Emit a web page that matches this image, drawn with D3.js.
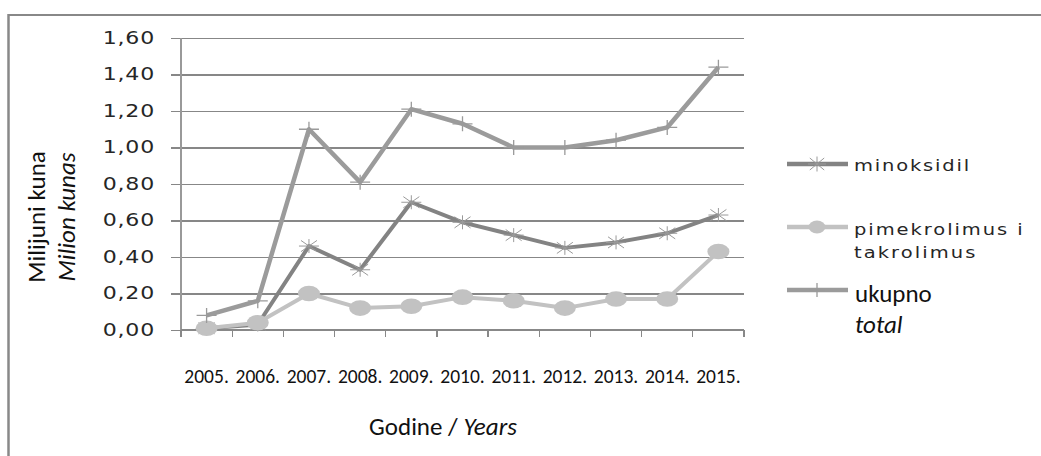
<!DOCTYPE html>
<html>
<head>
<meta charset="utf-8">
<script src="https://cdn.jsdelivr.net/npm/d3@7"></script>
<style>
  html, body { margin: 0; padding: 0; background: #fff; }
  svg { display: block; }
</style>
</head>
<body>
<svg id="chart" width="1041" height="456"></svg>
<script>
// Years on the category axis
const years = ["2005.", "2006.", "2007.", "2008.", "2009.", "2010.", "2011.", "2012.", "2013.", "2014.", "2015."];

// Spending per group, million kunas
const minoksidil = [0.01, 0.03, 0.46, 0.33, 0.70, 0.59, 0.52, 0.45, 0.48, 0.53, 0.63];
const pimekrolimus = [0.01, 0.04, 0.20, 0.12, 0.13, 0.18, 0.16, 0.12, 0.17, 0.17, 0.43];
const ukupno = [0.08, 0.16, 1.10, 0.81, 1.21, 1.13, 1.00, 1.00, 1.04, 1.11, 1.44];

// Value axis ticks
const yTicks = [0, 0.2, 0.4, 0.6, 0.8, 1.0, 1.2, 1.4, 1.6];

const svg = d3.select("#chart");
const WIDE = 1.3;            // horizontal stretch of the sans labels
const verdana = "'DejaVu Sans', Verdana, sans-serif";
const calibri = "Carlito, Calibri, 'Liberation Sans', sans-serif";

// Text drawn with a horizontal stretch around its anchor point
function wideText(parent, x, y, str, opts) {
  const g = parent.append("g").attr("transform", `translate(${x},${y}) scale(${WIDE},1)`);
  return g.append("text")
    .attr("font-family", verdana)
    .attr("font-size", opts.size)
    .attr("letter-spacing", opts.spacing ? opts.spacing + "px" : null)
    .attr("text-anchor", opts.anchor || "start")
    .attr("dominant-baseline", opts.baseline || null)
    .attr("fill", "#262626")
    .text(str);
}

// Outer frame (top and left edges visible)
svg.append("line").attr("x1", 8.5).attr("x2", 1041).attr("y1", 15).attr("y2", 15)
  .attr("stroke", "#888").attr("stroke-width", 2.2);
svg.append("line").attr("x1", 8.5).attr("x2", 8.5).attr("y1", 14).attr("y2", 456)
  .attr("stroke", "#888").attr("stroke-width", 2.5);

const plot = { left: 181, right: 744, top: 38, bottom: 330 };

const x = d3.scaleBand().domain(years).range([plot.left, plot.right]).padding(0);
const y = d3.scaleLinear().domain([0, 1.6]).range([plot.bottom, plot.top]);
const fmt = v => d3.format(".2f")(v).replace(".", ",");

// Horizontal gridlines with left tick stubs
const yAxis = d3.axisLeft(y).tickValues(yTicks)
  .tickSize(-(plot.right - plot.left)).tickSizeOuter(0).tickFormat(() => "");
const gy = svg.append("g").attr("transform", `translate(${plot.left},0)`).call(yAxis);
gy.select(".domain").remove();
gy.selectAll(".tick line").attr("x1", -10).attr("stroke", "#878787").attr("stroke-width", 1.2)
  .attr("shape-rendering", "crispEdges");

// Value labels, right-aligned beside the tick stubs
const gyl = svg.append("g");
yTicks.forEach(v => {
  wideText(gyl, 155, y(v), fmt(v), { size: 17, spacing: 0.6, anchor: "end", baseline: "central" });
});

// Vertical axis line
svg.append("line").attr("x1", plot.left).attr("x2", plot.left)
  .attr("y1", plot.top).attr("y2", plot.bottom + 7)
  .attr("stroke", "#999").attr("stroke-width", 1.2).attr("shape-rendering", "crispEdges");

// Category axis: ticks between years
const boundaries = years.map(d => x(d)).concat([plot.right]);
svg.append("g").selectAll("line").data(boundaries).join("line")
  .attr("x1", d => d).attr("x2", d => d)
  .attr("y1", plot.bottom).attr("y2", plot.bottom + 7)
  .attr("stroke", "#888").attr("stroke-width", 1.2).attr("shape-rendering", "crispEdges");
svg.append("line").attr("x1", plot.left).attr("x2", plot.right)
  .attr("y1", plot.bottom).attr("y2", plot.bottom)
  .attr("stroke", "#888").attr("stroke-width", 1.2).attr("shape-rendering", "crispEdges");

svg.append("g").selectAll("text").data(years).join("text")
  .attr("x", d => x(d) + x.bandwidth() / 2)
  .attr("y", 383)
  .attr("text-anchor", "middle")
  .attr("font-family", calibri)
  .attr("font-size", 19.5).attr("fill", "#111")
  .text(d => d);

// Axis titles
const xt = svg.append("text").attr("x", 443).attr("y", 435).attr("text-anchor", "middle")
  .attr("font-family", calibri).attr("font-size", 25).attr("fill", "#111");
xt.append("tspan").text("Godine / ");
xt.append("tspan").attr("font-style", "italic").text("Years");

const yt = svg.append("text").attr("transform", "translate(45,217) rotate(-90)")
  .attr("text-anchor", "middle")
  .attr("font-family", calibri).attr("font-size", 25).attr("fill", "#111");
yt.append("tspan").attr("x", 0).attr("dy", 0).text("Milijuni kuna");
yt.append("tspan").attr("x", 0).attr("dy", 30).attr("font-style", "italic").text("Milion kunas");

const cx = i => x(years[i]) + x.bandwidth() / 2;
const line = d3.line().x((d, i) => cx(i)).y(d => y(d));

const cMin = "#838383", cPim = "#c2c2c2", cUk = "#9b9b9b", cMark = "#9a9a9a";

// Marker shapes
function star(g, px, py, w, h) {
  g.append("path")
    .attr("d", `M${px - w},${py}H${px + w}M${px},${py - h}V${py + h}` +
               `M${px - w * 0.8},${py - h * 0.8}L${px + w * 0.8},${py + h * 0.8}` +
               `M${px - w * 0.8},${py + h * 0.8}L${px + w * 0.8},${py - h * 0.8}`)
    .attr("stroke", cMark).attr("stroke-width", 1).attr("fill", "none");
}
function plus(g, px, py, w, h) {
  g.append("path")
    .attr("d", `M${px - w},${py}H${px + w}M${px},${py - h}V${py + h}`)
    .attr("stroke", cMark).attr("stroke-width", 1.3).attr("fill", "none");
}

// minoksidil
svg.append("path").datum(minoksidil).attr("d", line)
  .attr("fill", "none").attr("stroke", cMin).attr("stroke-width", 4).attr("stroke-linejoin", "round");
const gMin = svg.append("g");
minoksidil.forEach((v, i) => star(gMin, cx(i), y(v), 10, 7));

// pimekrolimus i takrolimus
svg.append("path").datum(pimekrolimus).attr("d", line)
  .attr("fill", "none").attr("stroke", cPim).attr("stroke-width", 4).attr("stroke-linejoin", "round");
svg.append("g").selectAll("ellipse").data(pimekrolimus).join("ellipse")
  .attr("cx", (d, i) => cx(i)).attr("cy", d => y(d)).attr("rx", 11).attr("ry", 7.8)
  .attr("fill", cPim);

// ukupno / total
svg.append("path").datum(ukupno).attr("d", line)
  .attr("fill", "none").attr("stroke", cUk).attr("stroke-width", 4.5).attr("stroke-linejoin", "round");
const gUk = svg.append("g");
ukupno.forEach((v, i) => plus(gUk, cx(i), y(v), 10, 7.5));

// Legend
const lg = svg.append("g");
const lx1 = 787, lx2 = 848, lmid = 817;
lg.append("line").attr("x1", lx1).attr("x2", lx2).attr("y1", 164).attr("y2", 164)
  .attr("stroke", cMin).attr("stroke-width", 4.5);
star(lg, lmid, 164, 9, 7.5);
wideText(lg, 854, 171, "minoksidil", { size: 15, spacing: 1.4 });

lg.append("line").attr("x1", lx1).attr("x2", lx2).attr("y1", 227).attr("y2", 227)
  .attr("stroke", cPim).attr("stroke-width", 4.5);
lg.append("ellipse").attr("cx", lmid).attr("cy", 227).attr("rx", 8.5).attr("ry", 6.5).attr("fill", cPim);
wideText(lg, 854, 235, "pimekrolimus i", { size: 15, spacing: 1.5 });
wideText(lg, 854, 258, "takrolimus", { size: 15, spacing: 1.6 });

lg.append("line").attr("x1", lx1).attr("x2", lx2).attr("y1", 290).attr("y2", 290)
  .attr("stroke", cUk).attr("stroke-width", 4.5);
plus(lg, lmid, 290, 8, 7);
const lt3 = lg.append("text").attr("font-family", calibri)
  .attr("font-size", 25).attr("fill", "#111");
lt3.append("tspan").attr("x", 855).attr("y", 302).text("ukupno");
lt3.append("tspan").attr("x", 855).attr("y", 333).attr("font-style", "italic").text("total");
</script>
</body>
</html>
